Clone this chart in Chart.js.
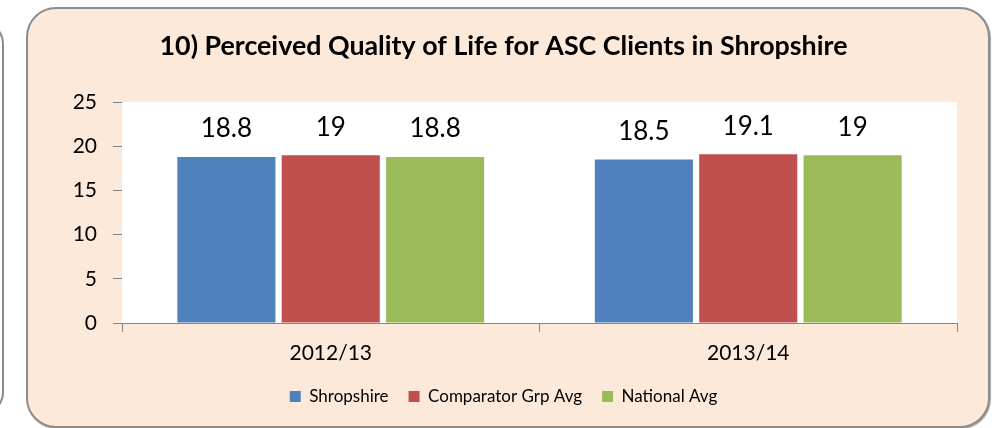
<!DOCTYPE html>
<html>
<head>
<meta charset="utf-8">
<script src="https://cdn.jsdelivr.net/npm/chart.js@4"></script>
<style>
  html, body { margin:0; padding:0; background:#ffffff; }
  #wrap { position:relative; width:992px; height:428px; overflow:hidden; }
  #stray { position:absolute; left:-100px; top:20px; width:100px; height:392px; border:2px solid #8c8c8c; border-radius:24px; background:#ffffff; }
  #panel { position:absolute; left:26px; top:7px; width:960px; height:417px; border:2px solid #8c8c8c; border-radius:30px; background:#FDE9D9; box-shadow:1px 1px 1px rgba(0,0,0,0.35); }
  canvas { position:absolute; left:0; top:0; }
</style>
</head>
<body>
<div id="wrap">
  <div id="stray"></div>
  <div id="panel"></div>
  <canvas id="c" width="992" height="428"></canvas>
</div>
<script>
const categories = ["2012/13", "2013/14"];
const shropshire = [18.8, 18.5];
const comparator = [19, 19.1];
const national = [18.8, 19];
const seriesNames = ["Shropshire", "Comparator Grp Avg", "National Avg"];
const yTicks = [0, 5, 10, 15, 20, 25];
const titleText = "10) Perceived Quality of Life for ASC Clients in Shropshire";

const FONT = "Lato, 'Open Sans', sans-serif";

const plotBg = {
  id: 'plotBg',
  beforeDatasetsDraw(chart) {
    const {ctx, chartArea: a} = chart;
    ctx.save();
    ctx.fillStyle = '#ffffff';
    ctx.fillRect(a.left, a.top, a.right - a.left, a.bottom - a.top);
    ctx.restore();
  }
};

const valueLabels = {
  id: 'valueLabels',
  afterDatasetsDraw(chart) {
    const {ctx} = chart;
    ctx.save();
    ctx.font = "26px " + FONT;
    ctx.fillStyle = '#000000';
    ctx.textAlign = 'center';
    ctx.textBaseline = 'middle';
    chart.data.datasets.forEach((ds, i) => {
      chart.getDatasetMeta(i).data.forEach((bar, j) => {
        ctx.fillText(String(ds.data[j]), bar.x, bar.y - 28);
      });
    });
    ctx.restore();
  }
};

new Chart(document.getElementById('c'), {
  type: 'bar',
  data: {
    labels: categories,
    datasets: [
      { label: seriesNames[0], data: shropshire, backgroundColor: '#4F81BD' },
      { label: seriesNames[1], data: comparator, backgroundColor: '#C0504D' },
      { label: seriesNames[2], data: national, backgroundColor: '#9BBB59' }
    ]
  },
  options: {
    responsive: false,
    animation: false,
    devicePixelRatio: 1,
    categoryPercentage: 0.75,
    barPercentage: 0.94,
    layout: { padding: { left: 50, right: 35, top: 0, bottom: 13 } },
    plugins: {
      title: {
        display: true,
        text: titleText,
        color: '#000000',
        font: { family: FONT, size: 26.8, weight: 'bold' },
        padding: { top: 30, bottom: 40 }
      },
      legend: {
        position: 'bottom',
        labels: {
          color: '#000000',
          font: { family: FONT, size: 17 },
          boxWidth: 11,
          boxHeight: 11,
          padding: 20
        }
      },
      tooltip: { enabled: false }
    },
    scales: {
      x: {
        grid: { display: true, offset: true, drawOnChartArea: false, drawTicks: true, tickLength: 9, color: '#868686' },
        border: { display: true, color: '#868686', width: 1 },
        ticks: { color: '#000000', font: { family: FONT, size: 21 }, padding: 9 },
        afterFit(scale) { scale.height = 45; }
      },
      y: {
        min: 0, max: 25,
        afterBuildTicks(scale) { scale.ticks = yTicks.map(v => ({ value: v })); },
        grid: { display: true, drawOnChartArea: false, drawTicks: true, tickLength: 9, color: '#868686' },
        border: { display: true, color: '#868686', width: 1 },
        ticks: { color: '#000000', font: { family: FONT, size: 21 }, padding: 16 },
        afterFit(scale) { scale.width = 72; }
      }
    }
  },
  plugins: [plotBg, valueLabels]
});
</script>
</body>
</html>
